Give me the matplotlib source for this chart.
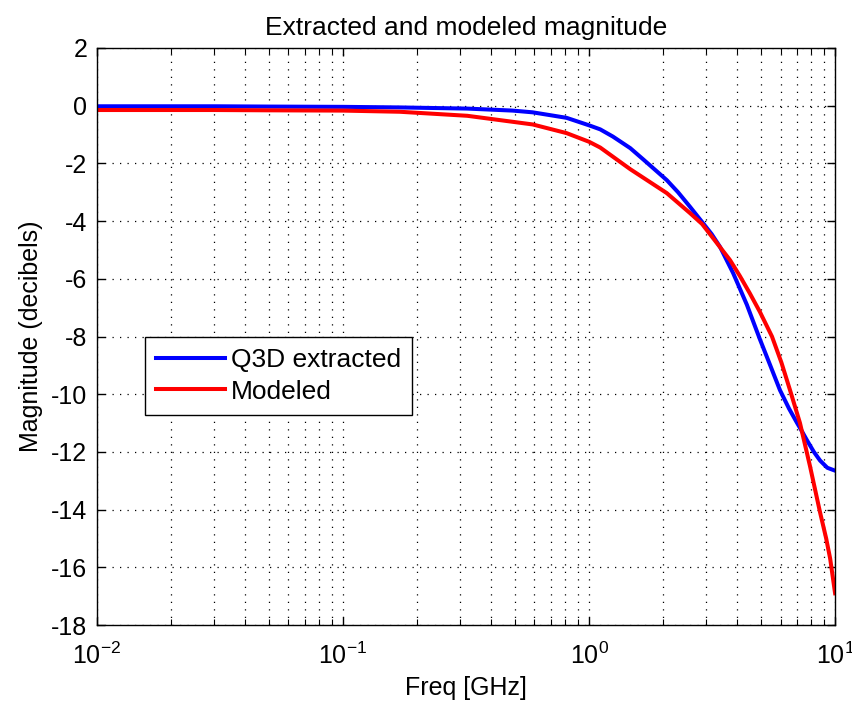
import matplotlib
matplotlib.use('Agg')
import matplotlib.pyplot as plt
import numpy as np

plt.rcParams['font.family'] = ['Liberation Sans', 'DejaVu Sans']
plt.rcParams['mathtext.fontset'] = 'custom'
plt.rcParams['mathtext.rm'] = 'Liberation Sans'
plt.rcParams['mathtext.it'] = 'Liberation Sans:italic'
plt.rcParams['mathtext.bf'] = 'Liberation Sans:bold'
plt.rcParams['axes.unicode_minus'] = False

# Q3D extracted response (GHz, dB)
freq_q3d = [0.01, 0.03, 0.05, 0.1, 0.17, 0.32, 0.49, 0.59, 0.81, 1.0, 1.11, 1.25,
            1.47, 1.66, 2.07, 2.3, 2.57, 2.88, 3.15, 3.41, 3.85, 4.38, 4.95,
            5.45, 5.97, 6.5, 7.01, 7.35, 7.69, 8.2, 8.69, 9.3, 10.0]
mag_q3d = [-0.02, -0.02, -0.03, -0.04, -0.06, -0.1, -0.17, -0.23, -0.42, -0.68,
           -0.82, -1.07, -1.47, -1.86, -2.58, -3.0, -3.5, -4.03, -4.45, -4.9,
           -5.8, -6.9, -8.1, -9.0, -9.86, -10.5, -11.0, -11.3, -11.6, -12.0,
           -12.3, -12.55, -12.65]

# modeled response (GHz, dB)
freq_model = [0.01, 0.03, 0.05, 0.1, 0.17, 0.32, 0.59, 0.81, 1.0, 1.11, 1.47,
              2.07, 2.57, 2.88, 3.3, 3.74, 4.1, 4.5, 4.95, 5.54, 6.05, 6.56,
              7.2, 7.91, 8.69, 9.2, 9.55, 10.0]
mag_model = [-0.15, -0.15, -0.16, -0.17, -0.21, -0.35, -0.65, -0.95, -1.25,
             -1.45, -2.2, -3.03, -3.72, -4.1, -4.75, -5.35, -5.9, -6.5, -7.15,
             -8.0, -8.9, -9.86, -11.0, -12.5, -14.1, -15.0, -15.7, -16.9]

yticks = np.arange(-18, 3, 2)

fig = plt.figure(figsize=(8.53, 7.10), dpi=100)
ax = fig.add_axes([0.1137, 0.1197, 0.8653, 0.8127])

ax.semilogx(freq_q3d, mag_q3d, color=(0, 0, 1), lw=2.9, label='Q3D extracted')
ax.semilogx(freq_model, mag_model, color=(1, 0, 0), lw=2.9, label='Modeled')

ax.set_xlim(1e-2, 1e1)
ax.set_ylim(-18, 2)
ax.set_yticks(yticks)
ax.set_yticklabels([str(v) for v in yticks])

ax.grid(True, which='major', color='k', linestyle=(0, (1, 5)), lw=0.9)
ax.grid(True, which='minor', axis='x', color='k', linestyle=(0, (1, 5)), lw=0.9)

ax.tick_params(which='both', direction='in', top=True, right=True, labelsize=18)
ax.tick_params(which='major', length=6, width=1)
ax.tick_params(which='minor', length=4, width=0.8)
ax.tick_params(axis='x', which='major', pad=13)
ax.tick_params(axis='y', which='major', pad=7)
for s in ax.spines.values():
    s.set_linewidth(1.0)

ax.set_title('Extracted and modeled magnitude', fontsize=19, pad=9)
ax.set_xlabel('Freq [GHz]', fontsize=18, labelpad=5)
ax.set_ylabel('Magnitude (decibels)', fontsize=18, labelpad=6)

leg = ax.legend(loc='upper left', bbox_to_anchor=(0.065, 0.499), borderaxespad=0,
                fontsize=19, fancybox=False, edgecolor='k', framealpha=1,
                handlelength=2.6, handletextpad=0.25, borderpad=0.42,
                labelspacing=0.28)
leg.get_frame().set_linewidth(1.0)

fig.savefig('out.png', dpi=100)
